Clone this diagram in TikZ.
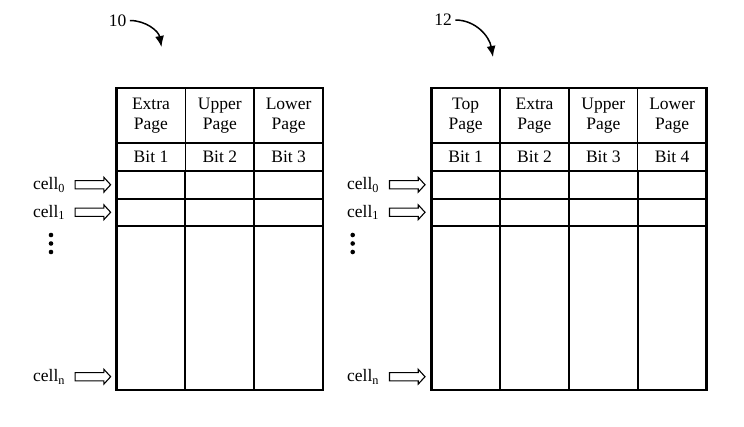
\documentclass[tikz,border=0pt]{standalone}
\usepackage{fontspec}
\setmainfont{Liberation Serif}
\usetikzlibrary{positioning,arrows.meta,shapes.arrows}
\tikzset{
  page/.style={draw,line width=1.5pt,minimum width=68.8pt,minimum height=55pt,inner sep=0pt,outer sep=0pt,align=center},
  bit/.style={page,minimum height=28pt},
  body/.style={draw,line width=2pt,minimum width=68.8pt,minimum height=219pt,inner sep=0pt,outer sep=0pt},
  frame/.style={line width=2.5pt},
  rule/.style={line width=2pt},
  cellname/.style={anchor=west,text width=32pt,inner sep=0pt,align=left},
  feed/.style={single arrow,draw,line width=1.1pt,inner sep=3.6pt,minimum height=35.5pt,
    single arrow head extend=3.2pt,single arrow tip angle=95,pos=0.5},
  callout/.style={line width=1.5pt,-{Latex[length=11pt,width=9pt]}}
}

\begin{document}
\begin{tikzpicture}[x=1pt,y=-1pt,node distance=0pt,font=\fontsize{17.5}{20.5}\selectfont]
\useasboundingbox (0,0) rectangle (744,426);

% table 10
\node (tenA) at (117.5,20.5) {10};
\coordinate (tipA) at (161.5,47);
\draw[callout] (tenA.east) to[out=0,in=100] (tipA);

\node[page] (extraA) at (151,115.5) {Extra\\Page};
\node[page,right=of extraA] (upperA) {Upper\\Page};
\node[page,right=of upperA] (lowerA) {Lower\\Page};
\node[bit,below=of extraA] (bitA1) {Bit 1};
\node[bit,below=of upperA] (bitA2) {Bit 2};
\node[bit,below=of lowerA] (bitA3) {Bit 3};
\node[body,below=of bitA1] (colA1) {};
\node[body,below=of bitA2] (colA2) {};
\node[body,below=of bitA3] (colA3) {};
\draw[rule] ([yshift=-27.5pt]colA1.north west) -- ([yshift=-27.5pt]colA3.north east);
\draw[rule] ([yshift=-55pt]colA1.north west) -- ([yshift=-55pt]colA3.north east);
\draw[frame] (extraA.north west) rectangle (colA3.south east);

\node[cellname] (cA0) at (33,184.75) {cell\textsubscript{0}};
\node[cellname] (cA1) at (33,212.25) {cell\textsubscript{1}};
\node[cellname] (cAn) at (33,376.7) {cell\textsubscript{n}};
\path (cA0.east) -- node[feed] {} (cA0.east -| colA1.west);
\path (cA1.east) -- node[feed] {} (cA1.east -| colA1.west);
\path (cAn.east) -- node[feed] {} (cAn.east -| colA1.west);
\foreach \y in {235,243.5,252} \fill (51,\y) circle (2.3pt);

% table 12
\node (twelveB) at (443,20) {12};
\coordinate (tipB) at (493,57);
\draw[callout] (twelveB.east) to[out=0,in=100] (tipB);

\node[page] (topB) at (465.7,115.5) {Top\\Page};
\node[page,right=of topB] (extraB) {Extra\\Page};
\node[page,right=of extraB] (upperB) {Upper\\Page};
\node[page,right=of upperB] (lowerB) {Lower\\Page};
\node[bit,below=of topB] (bitB1) {Bit 1};
\node[bit,below=of extraB] (bitB2) {Bit 2};
\node[bit,below=of upperB] (bitB3) {Bit 3};
\node[bit,below=of lowerB] (bitB4) {Bit 4};
\node[body,below=of bitB1] (colB1) {};
\node[body,below=of bitB2] (colB2) {};
\node[body,below=of bitB3] (colB3) {};
\node[body,below=of bitB4] (colB4) {};
\draw[rule] ([yshift=-27.5pt]colB1.north west) -- ([yshift=-27.5pt]colB4.north east);
\draw[rule] ([yshift=-55pt]colB1.north west) -- ([yshift=-55pt]colB4.north east);
\draw[frame] (topB.north west) rectangle (colB4.south east);

\node[cellname] (cB0) at (347,184.75) {cell\textsubscript{0}};
\node[cellname] (cB1) at (347,212.25) {cell\textsubscript{1}};
\node[cellname] (cBn) at (347,376.7) {cell\textsubscript{n}};
\path (cB0.east) -- node[feed] {} (cB0.east -| colB1.west);
\path (cB1.east) -- node[feed] {} (cB1.east -| colB1.west);
\path (cBn.east) -- node[feed] {} (cBn.east -| colB1.west);
\foreach \y in {235,243.5,252} \fill (352.7,\y) circle (2.3pt);

\end{tikzpicture}
\end{document}
